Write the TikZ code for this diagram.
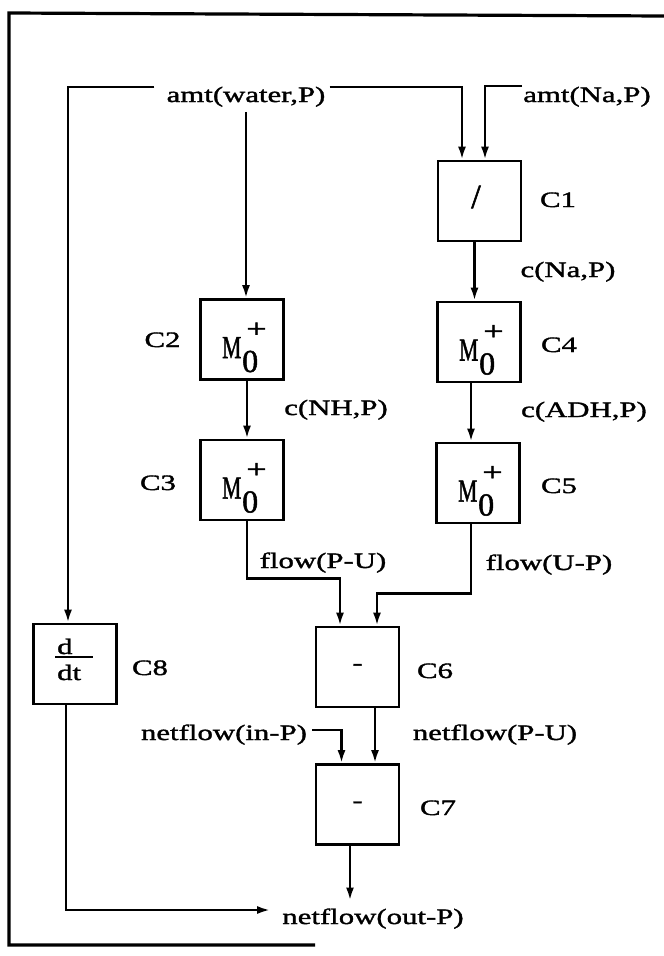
\documentclass[tikz,border=0pt]{standalone}
\usepackage{graphicx}
\usepackage{fontspec}
\setmainfont{Liberation Serif}[FakeStretch=1.4,FakeBold=1.6]
\newfontfamily\plainserif{Liberation Serif}[FakeBold=1.6]
\usetikzlibrary{arrows.meta}
\tikzset{
  lab/.style={font=\fontsize{22}{26}\selectfont, inner sep=0pt, anchor=base},
  blk/.style={draw, line width=2.8pt, minimum width=83pt, minimum height=80pt, inner sep=0pt,
              font=\fontsize{22}{26}\selectfont},
  mlet/.style={font=\plainserif\fontsize{32}{36}\selectfont, inner sep=0pt, anchor=base west},
  slash/.style={font=\plainserif\fontsize{34}{38}\selectfont, inner sep=0pt},
  plus/.style={font=\fontsize{26}{30}\selectfont, inner sep=0pt, anchor=center},
  conn/.style={line width=2.4pt},
  arr/.style={conn, -{Latex[length=13pt,width=8pt]}},
  frame/.style={line width=3.2pt}
}
\newcommand\mzero[1]{%
  \node[mlet] (#1m) at ([shift={(-20,18.5)}]#1.center) {\scalebox{0.67}[1]{M}};
  \node[mlet] (#1z) at ([shift={(0,32.5)}]#1.center) {0};
  \node[plus] (#1p) at ([shift={(14.5,-9.5)}]#1.center) {+};
}
\begin{document}
\begin{tikzpicture}[x=1pt,y=-1pt]
\useasboundingbox (0,0) rectangle (664,956);
\draw[frame] (664,16) -- (9,13) -- (9,945) -- (315,945);

% blocks
\node[blk] (c1) at (479.5,201) {};
\node[slash] (c1s) at ([shift={(-3.5,-4)}]c1.center) {/};
\node[blk] (c2) at (242,339.5) {};
\node[blk] (c3) at (242,480) {};
\node[blk] (c4) at (479,342) {};
\node[blk] (c5) at (478,483) {};
\node[blk] (c6) at (357.5,667) {-};
\node[blk] (c7) at (357.5,804.5) {-};
\node[blk] (c8) at (75,664) {};
\mzero{c2}
\mzero{c3}
\mzero{c4}
\mzero{c5}
% d/dt
\node[lab, anchor=base west] (c8d) at ([shift={(-18,-10)}]c8.center) {d};
\draw[conn] ([shift={(-20,-7)}]c8.center) -- ([shift={(18,-7)}]c8.center);
\node[lab, anchor=base west] (c8dt) at ([shift={(-18,16)}]c8.center) {dt};

% labels
\node[lab] (wat) at (246,102) {amt(water,P)};
\node[lab] (na) at (587,102) {amt(Na,P)};
\node[lab] (l1) at (558,207) {C1};
\node[lab] (l2) at (162.5,347) {C2};
\node[lab] (l3) at (158,490) {C3};
\node[lab] (l4) at (559,352) {C4};
\node[lab] (l5) at (559,493) {C5};
\node[lab] (l6) at (435,678) {C6};
\node[lab] (l7) at (438,815) {C7};
\node[lab] (l8) at (150,675) {C8};
\node[lab] (cna) at (568,277) {c(Na,P)};
\node[lab] (cnh) at (336,415) {c(NH,P)};
\node[lab] (cadh) at (584,417) {c(ADH,P)};
\node[lab] (fpu) at (323,568) {flow(P-U)};
\node[lab] (fup) at (549,570) {flow(U-P)};
\node[lab] (nin) at (224,740) {netflow(in-P)};
\node[lab] (npu) at (495,740) {netflow(P-U)};
\node[lab, outer ysep=8pt] (nout) at (373,924) {netflow(out-P)};

% connectors
\draw[arr] ([shift={(-12,-15)}]wat.base west) -| ([xshift=-7pt]c8.north);
\draw[arr] ([shift={(4,-15)}]wat.base east) -| ([xshift=-17.5pt]c1.north);
\draw[arr] ([shift={(-1,-16)}]na.base west) -| ([xshift=5.5pt]c1.north);
\draw[arr] ([yshift=-5pt]wat.south) -- (wat.south |- c2.north);
\draw[arr] ([xshift=-5pt]c1.south) -- ([xshift=-5pt]c1.south |- c4.north);
\draw[arr] ([xshift=5pt]c2.south) -- ([xshift=5pt]c2.south |- c3.north);
\draw[arr] ([xshift=-8pt]c4.south) -- ([xshift=-8pt]c4.south |- c5.north);
\coordinate (j1) at ([shift={(5,57)}]c3.south);
\draw[arr] ([xshift=5pt]c3.south) -- (j1) -| ([xshift=-17.5pt]c6.north);
\coordinate (j2) at ([shift={(-7,69)}]c5.south);
\draw[arr] ([xshift=-7pt]c5.south) -- (j2) -| ([xshift=19.5pt]c6.north);
\draw[arr] ([xshift=17.5pt]c6.south) -- ([xshift=17.5pt]c6.south |- c7.north);
\draw[arr] ([shift={(5,-10)}]nin.base east) -| ([xshift=-16pt]c7.north);
\draw[arr] ([xshift=-7.5pt]c7.south) -- ([xshift=-7.5pt]c7.south |- nout.north);
\draw[arr] ([xshift=-9pt]c8.south) |- ([shift={(-12,-14)}]nout.base west);
\end{tikzpicture}
\end{document}
